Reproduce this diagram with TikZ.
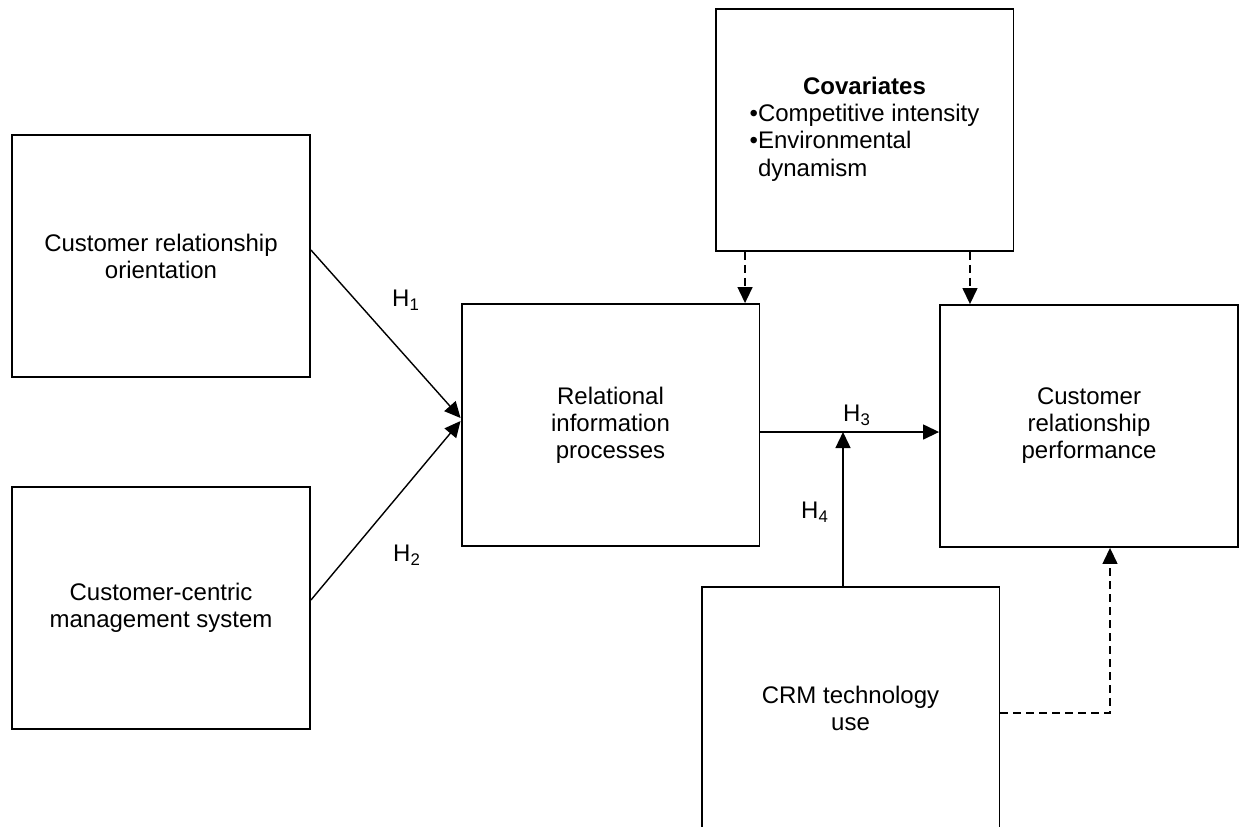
\documentclass[tikz,border=0pt]{standalone}
\usepackage{fontspec}
\setmainfont{Liberation Sans}
\usetikzlibrary{arrows.meta}
\begin{document}
\begin{tikzpicture}[x=0.02cm,y=-0.02cm,
                font=\fontsize{13.66}{15.4}\selectfont,
                box/.style={draw,line width=1.1pt,minimum width=5.96cm,minimum height=4.84cm,align=center,inner sep=0pt},
                arr/.style={-{Triangle[length=0.32cm,width=0.3cm]},line width=0.8pt},
                darr/.style={arr,dash pattern=on 0.16cm off 0.1cm}]
                \useasboundingbox (0,0) rectangle (1239,826);

                \node[box] (cro) at (161,256) {Customer relationship\\orientation};
                \node[box] (ccms) at (161,608) {Customer-centric\\management system};
                \node[box] (rip) at (610.5,425) {Relational\\information\\processes};
                \node[box] (cov) at (864.5,130) {\begin{tabular}{@{}l@{}}\multicolumn{1}{@{}c@{}}{\textbf{Covariates}}\\•Competitive intensity\\•Environmental\\\phantom{•}dynamism\end{tabular}};
                \node[box] (crp) at (1089,426) {Customer\\relationship\\performance};
                \node[box] (crm) at (850.5,708) {CRM technology\\use};

                \draw[arr] ([yshift=0.12cm]cro.east) -- ([yshift=0.14cm]rip.west);
                \draw[arr] ([yshift=0.16cm]ccms.east) -- ([yshift=0.08cm]rip.west);
                \draw[arr] ([yshift=-0.14cm]rip.east) coordinate (h3s) -- (h3s -| crp.west);
                \coordinate (mod) at ([xshift=-0.15cm]crm.north |- h3s);
                \draw[arr] ([xshift=-0.15cm]crm.north) -- (mod);

                \draw[darr] ([xshift=-2.39cm]cov.south) -- ([xshift=-2.39cm]cov.south |- rip.north);
                \draw[darr] ([xshift=2.11cm]cov.south) -- ([xshift=2.11cm]cov.south |- crp.north);
                \draw[darr] ([yshift=-0.1cm]crm.east) -| ([xshift=0.42cm]crp.south);

                \node (h1) at (406,300) {H\textsubscript{1}};
                \node (h2) at (407,555) {H\textsubscript{2}};
                \node (h3) at (857,415) {H\textsubscript{3}};
                \node (h4) at (815,512) {H\textsubscript{4}};
            \end{tikzpicture}
\end{document}
